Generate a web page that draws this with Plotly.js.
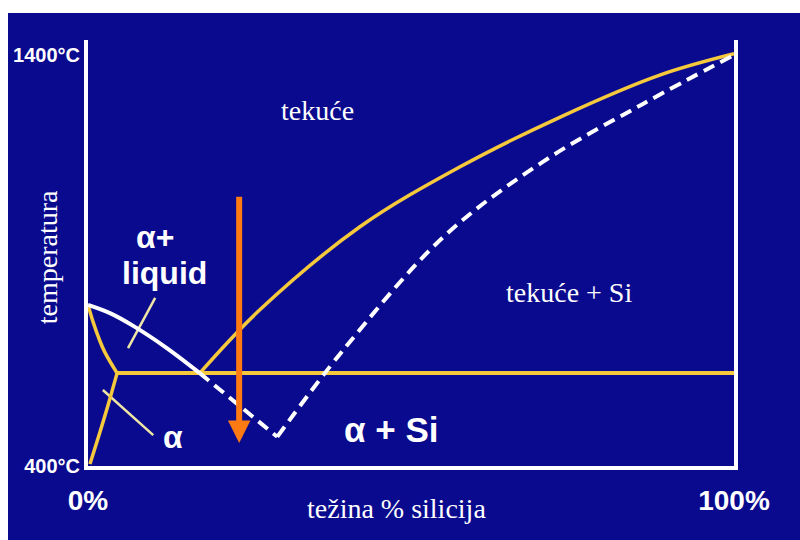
<!DOCTYPE html>
<html>
<head>
<meta charset="utf-8">
<script src="https://cdn.plot.ly/plotly-3.0.1.min.js"></script>
<style>
  html, body { margin: 0; padding: 0; background: #ffffff; width: 800px; height: 540px; overflow: hidden; }
  #chart { position: absolute; left: 8px; top: 13px; width: 792px; height: 527px; }
</style>
</head>
<body>
<div id="chart"></div>
<script>
// ---- data (weight % Si, temperature °C) ----
const liquidusAlX = [0, 3.4, 7.0, 12.2, 17.3];
const liquidusAlT = [792, 772, 741, 687, 626];

const metastableDownX = [17.3, 29.3];
const metastableDownT = [626, 471];
const metastableUpX = [29.3, 39.5, 55.0, 70.4, 85.9, 100];
const metastableUpT = [471, 682, 957, 1140, 1281, 1400];

const liquidusSiX = [17.3, 26.6, 42.1, 57.6, 73.1, 88.5, 100];
const liquidusSiT = [626, 780, 982, 1128, 1249, 1351, 1403];

const eutecticX = [4.5, 100];
const eutecticT = [626, 626];

const solidusX = [0, 0.8, 1.6, 2.6, 4.5];
const solidusT = [792, 750, 714, 677, 626];

const solvusX = [4.5, 3.1, 1.7, 0.3];
const solvusT = [626, 548, 475, 405];

const pointerLiquidX = [10.4, 6.2];
const pointerLiquidT = [809, 687];
const pointerAlphaX = [2.3, 10.1];
const pointerAlphaT = [585, 475];

const arrowX = 23.4;
const arrowFromT = 1059;
const arrowToT = 456;

const xTickVals = [0, 100];
const xTickText = ['0%', '100%'];
const yTickVals = [400, 1400];
const yTickText = ['400°C', '1400°C'];

const regionLabels = ['tekuće', 'tekuće + Si', 'α+', 'liquid', 'α', 'α + Si'];
const regionX = [35.6, 74.5, 10.4, 11.8, 13.2, 46.9];
const regionT = [1266, 821, 957, 870, 471, 490];

const xTitle = 'težina % silicija';
const yTitle = 'temperatura';

// ---- styles ----
const NAVY = '#0a0a8e';
const YELLOW = '#f6c93c';
const WHITE = '#ffffff';
const CREAM = '#efe6a6';

function line(x, y, color, width, dash, shape) {
  return {
    x: x, y: y, type: 'scatter', mode: 'lines', hoverinfo: 'skip', showlegend: false,
    line: { color: color, width: width, dash: dash || 'solid', shape: shape || 'linear', smoothing: 1 }
  };
}

const traces = [
  line(pointerLiquidX, pointerLiquidT, CREAM, 2.5),
  line(pointerAlphaX, pointerAlphaT, CREAM, 2.5),
  line(eutecticX, eutecticT, YELLOW, 4),
  line(solidusX, solidusT, YELLOW, 3.5, 'solid', 'spline'),
  line(solvusX, solvusT, YELLOW, 3.5, 'solid', 'spline'),
  line(liquidusSiX, liquidusSiT, YELLOW, 3.5, 'solid', 'spline'),
  line(metastableDownX, metastableDownT, WHITE, 4, '12px,7px'),
  line(metastableUpX, metastableUpT, WHITE, 4, '12px,7px', 'spline'),
  line(liquidusAlX, liquidusAlT, WHITE, 4, 'solid', 'spline')
];

const boldStyle = ['', '', 'bold', 'bold', 'bold', 'bold'];
const serifFont = { family: 'Liberation Serif, Times New Roman, serif', size: 28, color: WHITE };
const boldFont = (s) => ({ family: 'Liberation Sans, Arial, sans-serif', size: s, color: WHITE, weight: 'bold' });

const annotations = regionLabels.map((t, i) => ({
  text: t, x: regionX[i], y: regionT[i], xref: 'x', yref: 'y', showarrow: false,
  xanchor: 'center', yanchor: 'middle',
  font: boldStyle[i] ? boldFont(i === 5 ? 35 : 32) : serifFont
}));

annotations.push({
  text: yTitle, xref: 'paper', yref: 'paper', x: -0.0635, y: 0.49, showarrow: false,
  textangle: -90, xanchor: 'center', yanchor: 'middle', font: serifFont
});
annotations.push({
  text: xTitle, xref: 'paper', yref: 'paper', x: 0.4768, y: -0.0986, showarrow: false,
  xanchor: 'center', yanchor: 'middle', font: serifFont
});
annotations.push({
  text: '', x: arrowX, y: arrowToT, ax: arrowX, ay: arrowFromT,
  xref: 'x', yref: 'y', axref: 'x', ayref: 'y',
  showarrow: true, arrowhead: 2, arrowsize: 0.75, arrowwidth: 6, arrowcolor: '#ff7a12', standoff: 0
});

const layout = {
  width: 792, height: 527,
  margin: { l: 80, r: 66, t: 27, b: 74, pad: 0 },
  paper_bgcolor: NAVY, plot_bgcolor: NAVY,
  showlegend: false,
  xaxis: {
    range: [0, 100], showgrid: false, zeroline: false,
    showline: true, linecolor: WHITE, linewidth: 4, mirror: false,
    ticks: '', tickvals: xTickVals, ticktext: xTickText,
    tickfont: boldFont(28), ticklabelstandoff: 6, fixedrange: true
  },
  yaxis: {
    range: [400, 1436.5], showgrid: false, zeroline: false,
    showline: true, linecolor: WHITE, linewidth: 4, mirror: true,
    ticks: '', tickvals: yTickVals, ticktext: yTickText,
    tickfont: boldFont(20), ticklabelstandoff: 0, fixedrange: true
  },
  annotations: annotations
};

Plotly.newPlot('chart', traces, layout, { staticPlot: true, displayModeBar: false });
</script>
</body>
</html>
